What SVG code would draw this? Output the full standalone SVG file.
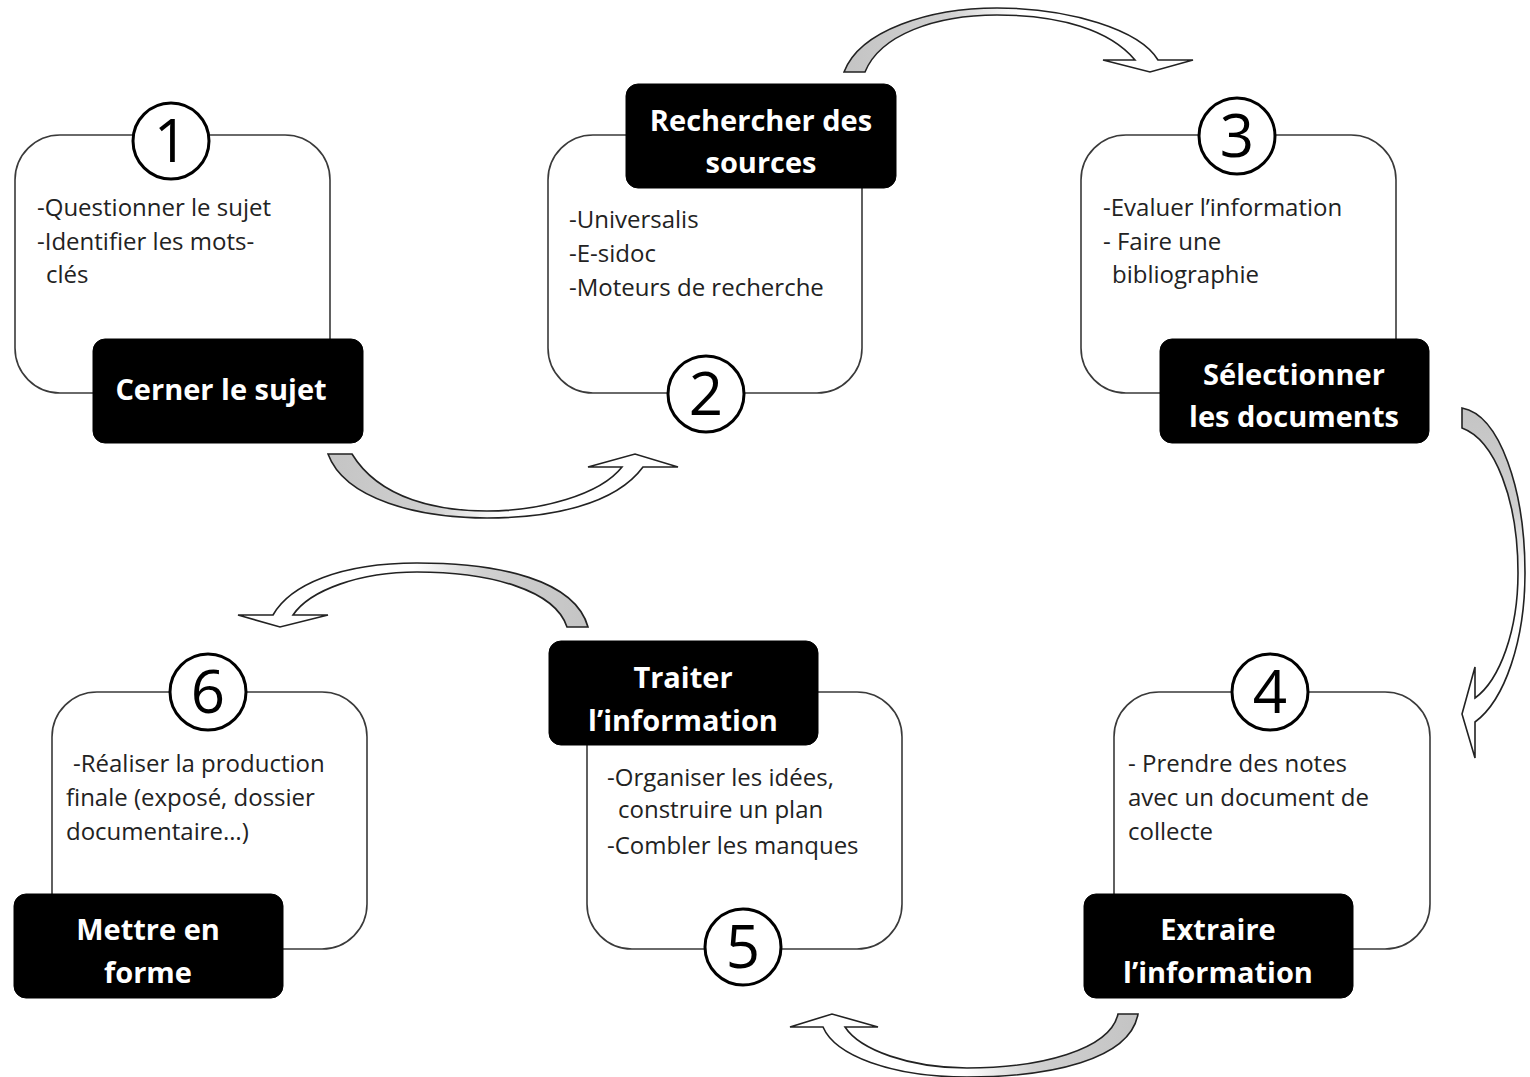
<svg xmlns="http://www.w3.org/2000/svg" width="1530" height="1077" viewBox="0 0 1530 1077">
<defs>
<style>
.box{fill:#fff;stroke:#3a3a3a;stroke-width:1.6}
.lab{fill:#000;stroke:#000;stroke-width:1}
.lt{font-family:"Open Sans","Liberation Sans",sans-serif;font-weight:bold;font-size:29px;fill:#fff;text-anchor:middle}
.bt{font-family:"Open Sans","Liberation Sans",sans-serif;font-size:24px;fill:#222}
.num{fill:#fff;stroke:#000;stroke-width:3}
.nt{font-family:"Open Sans","Liberation Sans",sans-serif;font-size:60px;fill:#000;text-anchor:middle}
.arr{stroke:#222;stroke-width:1.6;stroke-linejoin:miter}
</style>
<linearGradient id="gR" x1="0" y1="0" x2="1" y2="0"><stop offset="0" stop-color="#c4c4c4"/><stop offset="0.3" stop-color="#d0d0d0"/><stop offset="0.5" stop-color="#fff"/><stop offset="1" stop-color="#fff"/></linearGradient>
<linearGradient id="gL" x1="1" y1="0" x2="0" y2="0"><stop offset="0" stop-color="#c4c4c4"/><stop offset="0.3" stop-color="#d0d0d0"/><stop offset="0.5" stop-color="#fff"/><stop offset="1" stop-color="#fff"/></linearGradient>
<linearGradient id="gD" x1="0" y1="0" x2="0" y2="1"><stop offset="0" stop-color="#c4c4c4"/><stop offset="0.3" stop-color="#d0d0d0"/><stop offset="0.5" stop-color="#fff"/><stop offset="1" stop-color="#fff"/></linearGradient>
</defs>
<rect width="1530" height="1077" fill="#fff"/>

<g id="connectors">
<path class="arr" fill="url(#gR)" d="M328,454 L352,454 C380,500 440,511 487,511 C540,511 600,495 622,467 L588,467 L635,454 L678,467 L643,467 C615,505 550,518 487,518 C420,518 345,500 328,454 Z"/>
<path class="arr" fill="url(#gR)" d="M844,72 C860,30 930,8 997,8 C1070,8 1140,30 1158,60 L1193,60 L1150,72 L1103,60 L1135,60 C1110,30 1060,15 997,15 C935,15 880,35 865,72 Z"/>
<path class="arr" fill="url(#gD)" d="M1462,408 C1500,415 1525,490 1525,573 C1525,640 1505,700 1475,722 L1475,758 L1462,714 L1475,667 L1475,698 C1500,680 1518,630 1518,573 C1518,500 1495,440 1462,428 Z"/>
<path class="arr" fill="url(#gL)" d="M1138,1014 C1130,1060 1050,1077 967,1077 C890,1077 835,1055 823,1027 L790,1027 L832,1014 L878,1027 L845,1027 C860,1050 910,1068 967,1068 C1040,1068 1110,1050 1118,1014 Z"/>
<path class="arr" fill="url(#gL)" d="M588,627 C575,580 500,563 417,563 C340,563 290,585 273,615 L238,615 L280,627 L328,615 L293,615 C310,590 360,572 417,572 C490,572 555,590 567,627 Z"/>
</g>

<g id="node1">
<rect class="box" x="15" y="135" width="315" height="258" rx="45"/>
<text class="bt" x="37" y="216">-Questionner le sujet</text>
<text class="bt" x="37" y="250">-Identifier les mots-</text>
<text class="bt" x="46" y="283">clés</text>
<rect class="lab" x="93" y="339" width="270" height="104" rx="12"/>
<text class="lt" x="221" y="400">Cerner le sujet</text>
<circle class="num" cx="171" cy="141" r="38"/>
<text class="nt" x="171" y="162">1</text>
</g>

<g id="node2">
<rect class="box" x="548" y="135" width="314" height="258" rx="45"/>
<text class="bt" x="569" y="228">-Universalis</text>
<text class="bt" x="569" y="262">-E-sidoc</text>
<text class="bt" x="569" y="296">-Moteurs de recherche</text>
<rect class="lab" x="626" y="84" width="270" height="104" rx="12"/>
<text class="lt" x="761" y="131">Rechercher des</text>
<text class="lt" x="761" y="173">sources</text>
<circle class="num" cx="706" cy="394" r="38"/>
<text class="nt" x="706" y="415">2</text>
</g>

<g id="node3">
<rect class="box" x="1081" y="135" width="315" height="258" rx="45"/>
<text class="bt" x="1103" y="216">-Evaluer l’information</text>
<text class="bt" x="1103" y="250">- Faire une</text>
<text class="bt" x="1112" y="283">bibliographie</text>
<rect class="lab" x="1160" y="339" width="269" height="104" rx="12"/>
<text class="lt" x="1294" y="385">Sélectionner</text>
<text class="lt" x="1294" y="427">les documents</text>
<circle class="num" cx="1237" cy="136" r="38"/>
<text class="nt" x="1237" y="157">3</text>
</g>

<g id="node4">
<rect class="box" x="1114" y="692" width="316" height="257" rx="45"/>
<text class="bt" x="1128" y="772">-  Prendre des notes</text>
<text class="bt" x="1128" y="806">avec un document de</text>
<text class="bt" x="1128" y="840">collecte</text>
<rect class="lab" x="1084" y="894" width="269" height="104" rx="12"/>
<text class="lt" x="1218" y="940">Extraire</text>
<text class="lt" x="1218" y="983">l’information</text>
<circle class="num" cx="1270" cy="692" r="38"/>
<text class="nt" x="1270" y="713">4</text>
</g>

<g id="node5">
<rect class="box" x="587" y="692" width="315" height="257" rx="45"/>
<text class="bt" x="607" y="786">-Organiser les idées,</text>
<text class="bt" x="618" y="818">construire un plan</text>
<text class="bt" x="607" y="854">-Combler les manques</text>
<rect class="lab" x="549" y="641" width="269" height="104" rx="12"/>
<text class="lt" x="683" y="688">Traiter</text>
<text class="lt" x="683" y="731">l’information</text>
<circle class="num" cx="743" cy="947" r="38"/>
<text class="nt" x="743" y="968">5</text>
</g>

<g id="node6">
<rect class="box" x="52" y="692" width="315" height="257" rx="45"/>
<text class="bt" x="73" y="772">-Réaliser la production</text>
<text class="bt" x="66" y="806">finale (exposé, dossier</text>
<text class="bt" x="66" y="840">documentaire…)</text>
<rect class="lab" x="14" y="894" width="269" height="104" rx="12"/>
<text class="lt" x="148" y="940">Mettre en</text>
<text class="lt" x="148" y="983">forme</text>
<circle class="num" cx="208" cy="692" r="38"/>
<text class="nt" x="208" y="713">6</text>
</g>
</svg>
